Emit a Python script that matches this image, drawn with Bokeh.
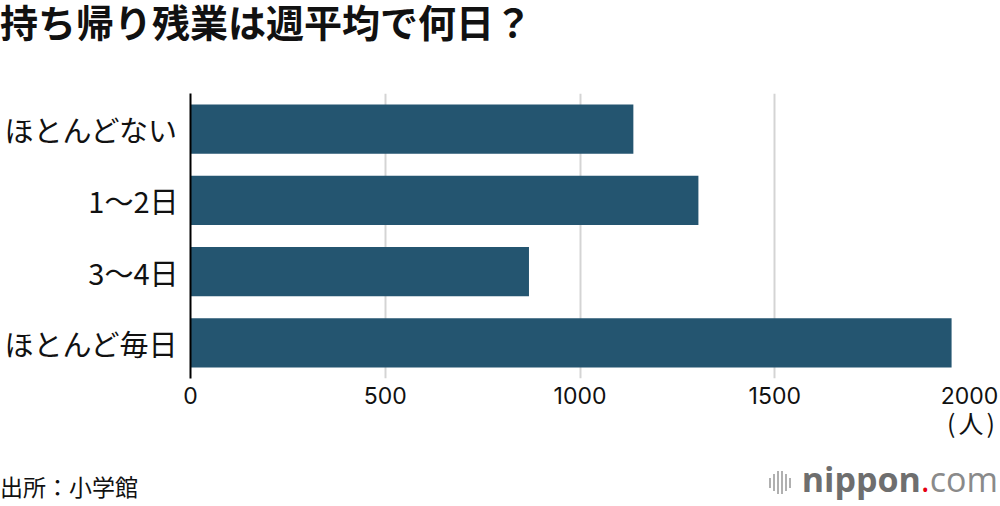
from bokeh.plotting import figure
from bokeh.models import FactorRange, Range1d, FixedTicker, ColumnDataSource, Div
from bokeh.layouts import column
from bokeh.embed import file_html
from bokeh.resources import INLINE

# ---- data ----
categories = ["ほとんどない", "1～2日", "3～4日", "ほとんど毎日"]
values = [1137, 1304, 869, 1954]
x_ticks = [0, 500, 1000, 1500, 2000]
title_text = "持ち帰り残業は週平均で何日？"
unit_text = "(人)"
source_text = "出所：小学館"

BAR_COLOR = "#245570"
JP = "Noto Sans CJK JP"

W = 998
TITLE_H = 60
FL, FR, FT = 190, 969, 33
FRAME_H = 285
FB_BORDER = 32
FIG_H = FT + FRAME_H + FB_BORDER
FOOT_H = 90

# ---- title ----
title_div = Div(
    text=(f'<div style="position:relative;width:{W}px;height:{TITLE_H}px;">'
          f'<div style="position:absolute;left:0px;top:5px;'
          f'font-family:\'Liberation Sans\',\'{JP}\';'
          f'font-weight:700;font-size:38px;line-height:38px;color:#111;white-space:nowrap;">'
          f'{title_text}</div></div>'),
    width=W, height=TITLE_H, margin=(0, 0, 0, 0),
)

# ---- chart ----
src = ColumnDataSource(dict(cat=categories, val=values))

p = figure(
    width=W, height=FIG_H,
    y_range=FactorRange(factors=list(reversed(categories))),
    x_range=Range1d(0, 2000),
    output_backend="svg", toolbar_location=None,
    min_border_left=FL, min_border_right=W - FR,
    min_border_top=FT, min_border_bottom=FB_BORDER,
    margin=(0, 0, 0, 0),
)
p.outline_line_color = None
p.background_fill_color = "white"
p.border_fill_color = "white"

p.hbar(y="cat", right="val", left=0, height=0.69, source=src,
       fill_color=BAR_COLOR, line_color=None)

p.xaxis.ticker = FixedTicker(ticks=x_ticks)
p.xaxis.axis_line_color = None
p.xaxis.major_tick_line_color = None
p.xaxis.minor_tick_line_color = None
p.xaxis.major_tick_out = 0
p.xaxis.major_tick_in = 0
p.xaxis.major_label_standoff = 8
p.xaxis.major_label_text_font = "Inter"
p.xaxis.major_label_text_font_size = "23px"
p.xaxis.major_label_text_color = "#111111"

p.yaxis.axis_line_color = "black"
p.yaxis.axis_line_width = 2
p.yaxis.major_tick_line_color = None
p.yaxis.minor_tick_line_color = None
p.yaxis.major_tick_out = 0
p.yaxis.major_tick_in = 0
p.yaxis.major_label_standoff = 12
p.yaxis.major_label_text_font = JP
p.yaxis.major_label_text_font_size = "29px"
p.yaxis.major_label_text_color = "#111111"

p.xgrid.grid_line_color = "#d4d4d4"
p.xgrid.grid_line_width = 2
p.ygrid.grid_line_color = None

# ---- footer: unit, source, logo ----
icon_heights = [10, 17, 23, 23, 17, 10]
icon = "".join(
    f'<span style="display:inline-block;width:2px;height:{h}px;background:#b0b0b0;'
    f'margin-right:2px;vertical-align:middle;"></span>' for h in icon_heights)

footer_html = (
    f'<div style="position:relative;width:{W}px;height:{FOOT_H}px;">'
    f'<div style="position:absolute;right:0px;top:0px;font-family:\'{JP}\';'
    f'font-size:25px;line-height:25px;letter-spacing:3px;color:#111;white-space:nowrap;">{unit_text}</div>'
    f'<div style="position:absolute;left:0px;top:65px;font-family:\'{JP}\';'
    f'font-size:23px;line-height:23px;color:#111;white-space:nowrap;">{source_text}</div>'
    f'<div style="position:absolute;right:0px;top:52px;font-family:\'Open Sans\';'
    f'font-size:34px;line-height:34px;white-space:nowrap;">'
    f'<span style="margin-right:9px;">{icon}</span>'
    f'<span style="font-weight:700;color:#6e6e6e;">nippon</span>'
    f'<span style="color:#e60012;">.</span>'
    f'<span style="font-weight:400;color:#8a8a8a;">com</span></div>'
    f'</div>'
)
footer_div = Div(text=footer_html, width=W, height=FOOT_H, margin=(0, 0, 0, 0))

layout = column(title_div, p, footer_div, spacing=0)

open("out.html", "w").write(file_html(layout, INLINE))
